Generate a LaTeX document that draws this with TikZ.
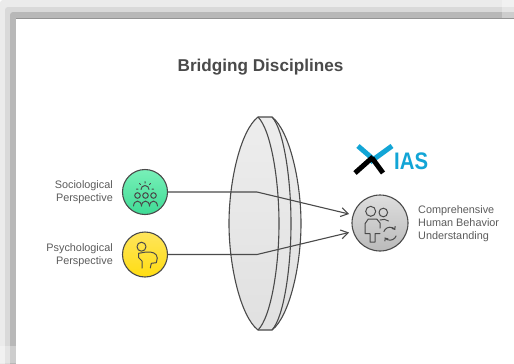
\documentclass[tikz,border=0pt]{standalone}
\usepackage{fontspec}
\setmainfont{Liberation Sans}
\usetikzlibrary{arrows.meta}
\definecolor{inkgrey}{HTML}{4A4A4A}
\definecolor{logoblue}{HTML}{12A5D6}
\definecolor{greentop}{HTML}{78F0B8}
\definecolor{greenlow}{HTML}{3FDB95}
\definecolor{yellowtop}{HTML}{FFE55C}
\definecolor{yellowlow}{HTML}{FFDD12}

\begin{document}
\begin{tikzpicture}[x=1bp, y=-1bp,
every path/.style = {line join=round},
 band/.style = {rounded corners=3bp},
 disc/.style args = {#1/#2}{%
      circle, draw=inkgrey, line width=1.1bp, top color=#1, bottom color=#2,
      minimum size=45bp, inner sep=0pt},
 lens/.style = {draw=inkgrey, line width=1.1bp},
 glyph/.style = {draw=inkgrey, line width=1bp, line cap=round},
 link/.style = {draw=inkgrey, line width=1.1bp, -{Straight Barb[length=7bp,width=9bp]}},
 sidetext/.style = {text=inkgrey!90, font=\fontsize{10.9}{13}\selectfont, inner sep=0pt}
                    ]
\useasboundingbox (0,0) rectangle (514,363);
% frame
\fill[white] (0,0) rectangle (514,363);
\fill[band, black!8]  (0,0)   rectangle (530,380);
\fill[band, black!15] (5,7)   rectangle (530,380);
\fill[band, black!28] (10,12) rectangle (530,380);
\fill[black!42] (16,18) rectangle (530,380);
\fill[white]    (16,19) rectangle (530,380);
\fill[white, opacity=.3] (502,0) rectangle (514,18);
\fill[white, opacity=.3] (0,346) rectangle (16,363);
%
\node(title) [font=\fontsize{17.2}{20}\selectfont\bfseries, text=inkgrey, inner sep=0pt] at (260.5,67) {Bridging Disciplines};
% lens
\path[lens, top color=black!7, bottom color=black!12]
      (258,117) -- (272,117)
      .. controls (289,130) and (301,180) .. (301,223.5)
      .. controls (301,267) and (289,317) .. (272,330)
      -- (258,330)
      .. controls (241,317) and (229,267) .. (229,223.5)
      .. controls (229,180) and (241,130) .. (258,117) -- cycle;
\draw[lens] (258,117) .. controls (271,130) and (279,180) .. (279,223.5)
                      .. controls (279,267) and (271,317) .. (258,330);
\draw[lens] (272,117) .. controls (284,130) and (291,180) .. (291,223.5)
                      .. controls (291,267) and (284,317) .. (272,330);
% circles
\node(soc)  [disc=greentop/greenlow] at (145,192) {};
\node(psy)  [disc=yellowtop/yellowlow] at (145,254.5) {};
\node(comp) [disc=black!13/black!27, minimum size=56bp] at (380,223) {};
%
\coordinate (bendA) at (257,192);
\coordinate (bendB) at (257,254.5);
\coordinate (inA)   at (349,214);
\coordinate (inB)   at (349,232.5);
\draw[link] (soc) -- (bendA) -- (inA);
\draw[link] (psy) -- (bendB) -- (inB);
% labels
\node(socT) [sidetext, align=right, anchor=east] at (113,192.5) {Sociological\\Perspective};
\node(psyT) [sidetext, align=right, anchor=east] at (113,255) {Psychological\\Perspective};
\node(compT) [sidetext, align=left, anchor=west] at (418,224) {Comprehensive\\Human Behavior\\Understanding};
% logo
\draw[logoblue, line width=5bp] (358,146) -- (373,159) (392,146) -- (370,162);
\draw[black, line width=5bp] (355,173) -- (373,157) (383,173) -- (372,158);
\node(logo) [font=\fontsize{24}{24}\selectfont\bfseries, text=logoblue, inner sep=0pt, anchor=west] at (394,161) {\scalebox{.85}[1]{IAS}};
% sociological icon
\draw[glyph] (141,189.5) arc (180:360:4);
\draw[glyph] (145,181.5) -- (145,183) (139.5,183.5) -- (140.5,184.5) (150.5,183.5) -- (149.5,184.5)
             (136.5,189) -- (138,189) (152,189) -- (153.5,189);
\foreach \hx in {137.5,145.5,153.5}{
  \draw[glyph] (\hx,195.5) circle (2.8);
  \draw[glyph] (\hx-4,206) .. controls (\hx-3.5,199.5) and (\hx+3.5,199.5) .. (\hx+4,206);
}
% psychological icon
\draw[glyph] (141.5,246.7) circle (4.5);
\draw[glyph] (138.7,253.3) -- (146,252) .. controls (152,251.5) and (157,253) .. (157.3,258)
             -- (156.3,262.7) -- (151.3,263.3) -- (150.3,268);
\draw[glyph] (142,268) -- (142,261) -- (138.7,257.7) -- (138.7,253.3);
% people icon
\draw[glyph] (370.7,211.3) circle (5);
\draw[glyph] (383.3,212.5) circle (4.3) (380,220) .. controls (383,219) and (386,219) .. (388.5,221);
\draw[glyph] (380,228) -- (380,223) -- (376.7,219) -- (368.3,219) -- (365,223.7) -- (365,233.7)
             -- (370,233.7) -- (370,242) -- (375,242) -- (375,233.7) -- (380,233.7);
\draw[glyph, -{Straight Barb[length=2.5bp,width=4bp]}] (383.9,231.5) arc (200:325:6.5);
\draw[glyph, -{Straight Barb[length=2.5bp,width=4bp]}] (396.1,235.9) arc (20:145:6.5);
\end{tikzpicture}
\end{document}
